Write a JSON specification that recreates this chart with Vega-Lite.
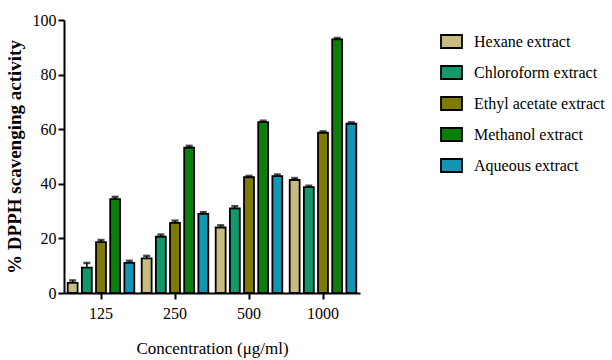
{
  "$schema": "https://vega.github.io/schema/vega-lite/v6.json",
  "width": 296,
  "height": 273,
  "autosize": "none",
  "padding": {"left": 64, "top": 20, "right": 252, "bottom": 67},
  "background": "white",
  "config": {
    "view": {"stroke": null},
    "font": "Liberation Serif"
  },
  "data": {
    "values": [
      {"conc": "125", "extract": "Hexane extract", "value": 3.7, "hi": 4.6},
      {"conc": "125", "extract": "Chloroform extract", "value": 9.3, "hi": 11.0},
      {"conc": "125", "extract": "Ethyl acetate extract", "value": 18.6, "hi": 19.4},
      {"conc": "125", "extract": "Methanol extract", "value": 34.4, "hi": 35.2},
      {"conc": "125", "extract": "Aqueous extract", "value": 11.0, "hi": 11.8},
      {"conc": "250", "extract": "Hexane extract", "value": 12.7, "hi": 13.6},
      {"conc": "250", "extract": "Chloroform extract", "value": 20.6, "hi": 21.4},
      {"conc": "250", "extract": "Ethyl acetate extract", "value": 25.7, "hi": 26.5},
      {"conc": "250", "extract": "Methanol extract", "value": 53.2, "hi": 53.9},
      {"conc": "250", "extract": "Aqueous extract", "value": 29.0, "hi": 29.6},
      {"conc": "500", "extract": "Hexane extract", "value": 24.0, "hi": 24.8},
      {"conc": "500", "extract": "Chloroform extract", "value": 31.0, "hi": 31.8},
      {"conc": "500", "extract": "Ethyl acetate extract", "value": 42.4, "hi": 42.9},
      {"conc": "500", "extract": "Methanol extract", "value": 62.6, "hi": 63.1},
      {"conc": "500", "extract": "Aqueous extract", "value": 42.8, "hi": 43.4},
      {"conc": "1000", "extract": "Hexane extract", "value": 41.4, "hi": 42.1},
      {"conc": "1000", "extract": "Chloroform extract", "value": 38.8, "hi": 39.3},
      {"conc": "1000", "extract": "Ethyl acetate extract", "value": 58.7, "hi": 59.2},
      {"conc": "1000", "extract": "Methanol extract", "value": 92.9, "hi": 93.4},
      {"conc": "1000", "extract": "Aqueous extract", "value": 62.0, "hi": 62.5}
    ]
  },
  "encoding": {
    "x": {
      "field": "conc", "type": "ordinal", "sort": ["125", "250", "500", "1000"],
      "scale": {"paddingInner": 0.1, "paddingOuter": 0.05},
      "axis": {"grid": false, "domainColor": "black", "tickColor": "black", "domainWidth": 2, "tickWidth": 2, "tickSize": 6, "labelColor": "black", "titleColor": "black", "labelFont": "Liberation Serif", "titleFont": "Liberation Serif", "labelAngle": 0, "labelFontSize": 16, "labelPadding": 6, "title": "Concentration (μg/ml)", "titleFontSize": 17, "titleFontWeight": "normal", "titlePadding": 19}
    },
    "xOffset": {
      "field": "extract", "type": "nominal",
      "sort": ["Hexane extract", "Chloroform extract", "Ethyl acetate extract", "Methanol extract", "Aqueous extract"],
      "scale": {"paddingInner": 0.3, "paddingOuter": 0.0}
    }
  },
  "layer": [
    {
      "mark": {"type": "bar", "stroke": "black", "strokeWidth": 1.8},
      "encoding": {
        "y": {
          "field": "value", "type": "quantitative",
          "scale": {"domain": [0, 100], "nice": false},
          "axis": {"grid": false, "domainColor": "black", "tickColor": "black", "domainWidth": 2, "tickWidth": 2, "tickSize": 6, "labelColor": "black", "titleColor": "black", "labelFont": "Liberation Serif", "titleFont": "Liberation Serif", "values": [0, 20, 40, 60, 80, 100], "labelFontSize": 16, "labelPadding": 2, "title": "% DPPH scavenging activity", "titleFontSize": 19, "titleFontWeight": "bold", "titlePadding": 8}
        },
        "color": {
          "field": "extract", "type": "nominal",
          "sort": ["Hexane extract", "Chloroform extract", "Ethyl acetate extract", "Methanol extract", "Aqueous extract"],
          "scale": {
            "domain": ["Hexane extract", "Chloroform extract", "Ethyl acetate extract", "Methanol extract", "Aqueous extract"],
            "range": ["#C8BB80", "#12986C", "#7F7A08", "#0A800A", "#1296B4"]
          },
          "legend": {
            "title": null, "orient": "none", "legendX": 376, "legendY": 10,
            "symbolType": "M-1,-0.62H1V0.62H-1Z", "symbolSize": 441, "symbolStrokeColor": "black", "symbolStrokeWidth": 1.8,
            "labelFontSize": 16, "labelFont": "Liberation Serif", "labelColor": "black", "labelLimit": 300, "labelOffset": 11,
            "rowPadding": 9, "symbolOpacity": 1
          }
        }
      }
    },
    {
      "mark": {"type": "rule", "color": "black", "strokeWidth": 1.5},
      "encoding": {
        "y": {"field": "value", "type": "quantitative"},
        "y2": {"field": "hi"}
      }
    },
    {
      "mark": {"type": "tick", "color": "black", "thickness": 2.5, "size": 7},
      "encoding": {
        "y": {"field": "hi", "type": "quantitative"}
      }
    }
  ]
}
